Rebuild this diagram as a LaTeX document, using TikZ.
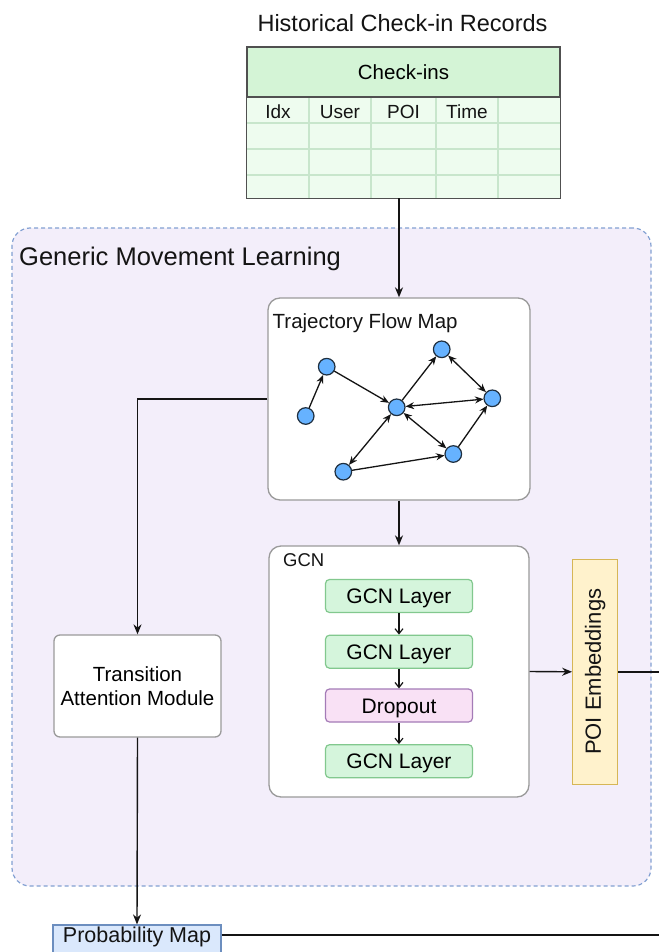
\documentclass[tikz,border=0pt]{standalone}
\usepackage{fontspec}
\setmainfont{Liberation Sans}
\usetikzlibrary{arrows.meta,calc}

\definecolor{regionfill}{HTML}{F3EEFA}
\definecolor{regionline}{HTML}{82A0D2}
\definecolor{panelline}{HTML}{9A9A9A}
\definecolor{hdrfill}{HTML}{D4F4D6}
\definecolor{bodyfill}{HTML}{EEFCEF}
\definecolor{gridline}{HTML}{C8E6CC}
\definecolor{tableline}{HTML}{505050}
\definecolor{layerfill}{HTML}{D5F5DC}
\definecolor{layerline}{HTML}{82C88E}
\definecolor{dropfill}{HTML}{F9E1F5}
\definecolor{dropline}{HTML}{A47BB7}
\definecolor{poifill}{HTML}{FFF2CC}
\definecolor{poiline}{HTML}{D6B656}
\definecolor{pmfill}{HTML}{DAE8FC}
\definecolor{pmline}{HTML}{6C8EBF}
\definecolor{vertexfill}{HTML}{66B2FF}
\definecolor{vertexline}{HTML}{1F2F3F}
\definecolor{ink}{HTML}{141414}

\newcommand\fsz[2]{\fontsize{#1}{#2}\selectfont}

\begin{document}
\begin{tikzpicture}[x=1pt,y=-1pt,
  region/.style={draw=regionline, dash pattern=on 4pt off 3pt, fill=regionfill,
    rounded corners=18pt, line width=1.2pt, inner sep=0pt},
  panel/.style={draw=panelline, fill=white, rounded corners=12pt, line width=1.3pt, inner sep=0pt},
  layerbox/.style={draw=layerline, fill=layerfill, rounded corners=4pt, minimum width=147pt,
    minimum height=33pt, inner sep=0pt, font=\fsz{21}{25}, line width=1.2pt,
    text height=15pt, text depth=0pt},
  dropbox/.style={layerbox, draw=dropline, fill=dropfill},
  poibox/.style={draw=poiline, fill=poifill, line width=1.2pt, minimum width=45pt,
    minimum height=225pt, inner sep=0pt},
  pmbox/.style={draw=pmline, fill=pmfill, line width=1.2pt, minimum width=168pt,
    minimum height=44pt, inner sep=0pt},
  tambox/.style={draw=panelline, fill=white, rounded corners=6pt, line width=1.3pt,
    minimum width=167pt, minimum height=102pt, inner sep=0pt, align=center,
    font=\fsz{20.5}{24}},
  vertex/.style={circle, draw=vertexline, fill=vertexfill, minimum size=16.6pt,
    inner sep=0pt, line width=1.2pt},
  flow/.style={-{Stealth[length=10pt,width=8pt]}, line width=1.4pt, draw=ink},
  edge/.style={-{Stealth[length=8.5pt,width=7pt]}, line width=1.3pt, draw=ink},
  biedge/.style={{Stealth[length=8.5pt,width=7pt]}-{Stealth[length=8.5pt,width=7pt]},
    line width=1.3pt, draw=ink},
  link/.style={-{Straight Barb[length=5pt,width=8pt]}, line width=1.2pt, draw=ink},
  plain/.style={line width=1.4pt, draw=ink},
  txt/.style={inner sep=0pt, text=ink}
]
\useasboundingbox (0,0) rectangle (659,952);
\clip (0,0) rectangle (659,952);

% ---- region: generic movement learning ----
\node[region, minimum width=639pt, minimum height=658pt] (gml) at (331.5,557) {};
\node[txt, anchor=base west, font=\fsz{25.5}{30}] (gmllabel) at (19,265) {Generic Movement Learning};

% ---- check-in table ----
\node[txt, anchor=base, font=\fsz{23.5}{28}] (title) at (402.5,31.5) {Historical Check-in Records};
\node[fill=bodyfill, minimum width=313pt, minimum height=151pt, inner sep=0pt] (checkins) at (403.5,122.5) {};
\foreach \cx in {309,371,436,498}
  \draw[gridline, line width=1.2pt] (\cx,97) -- (\cx,198);
\foreach \cy in {123,149,175}
  \draw[gridline, line width=1.2pt] (247,\cy) -- (560,\cy);
\node[draw=tableline, fill=hdrfill, line width=1.3pt, minimum width=313pt, minimum height=50pt,
  inner sep=0pt, font=\fsz{20.5}{24}] (hdr) at (403.5,72) {Check-ins};
\draw[tableline, line width=1.3pt] (checkins.north west) rectangle (checkins.south east);
\node[txt, anchor=base, font=\fsz{19}{23}] (cidx) at (278,119) {Idx};
\node[txt, anchor=base, font=\fsz{19}{23}] (cuser) at (340,119) {User};
\node[txt, anchor=base, font=\fsz{19}{23}] (cpoi) at (403.5,119) {POI};
\node[txt, anchor=base, font=\fsz{19}{23}] (ctime) at (467,119) {Time};

% ---- trajectory flow map ----
\node[panel, minimum width=262pt, minimum height=202pt] (tfm) at (399,399) {};
\node[txt, anchor=base west, font=\fsz{20.5}{24}] (tfmlabel) at (272.5,328.3) {Trajectory Flow Map};
\node[vertex] (va) at (305.7,416) {};
\node[vertex] (vb) at (326.7,366.7) {};
\node[vertex] (vc) at (396.7,407.3) {};
\node[vertex] (vd) at (441.7,349.3) {};
\node[vertex] (ve) at (492.3,398.3) {};
\node[vertex] (vf) at (453.3,454) {};
\node[vertex] (vg) at (343.3,471.7) {};
\draw[edge] (va) -- (vb);
\draw[edge] (vb) -- (vc);
\draw[edge] (vc) -- (vd);
\draw[biedge] (vd) -- (ve);
\draw[biedge] (vc) -- (ve);
\draw[biedge] (vc) -- (vf);
\draw[biedge] (vc) -- (vg);
\draw[edge] (vg) -- (vf);
\draw[edge] (vf) -- (ve);

% ---- GCN ----
\node[panel, minimum width=260pt, minimum height=251pt] (gcn) at (399,671.5) {};
\node[txt, anchor=base west, font=\fsz{18.5}{22}] (gcnlabel) at (283,566.7) {GCN};
\node[layerbox] (l1) at (399,596) {GCN Layer};
\node[layerbox] (l2) at (399,651.7) {GCN Layer};
\node[dropbox] (dp) at (399,705.5) {Dropout};
\node[layerbox] (l3) at (399,761.2) {GCN Layer};
\draw[link] (l1) -- (l2);
\draw[link] (l2) -- (dp);
\draw[link] (dp) -- (l3);

% ---- POI embeddings ----
\node[poibox] (poi) at (595.2,671.8) {};
\node[txt, rotate=90, font=\fsz{22}{26}] (poilabel) at (poi.center) {POI Embeddings};

% ---- transition attention module ----
\node[tambox] (tam) at (137.5,686) {Transition\\Attention Module};

% ---- probability map ----
\node[pmbox] (pm) at (137,947) {};
\node[txt, font=\fsz{21.5}{26}] (pmlabel) at (137,937) {Probability Map};

% ---- connectors ----
\coordinate (poiout) at (659,671.8);
\coordinate (pmout) at (659,935);
\draw[flow] (checkins.south -| tfm.north) -- (tfm.north);
\draw[flow] (tfm.south) -- (gcn.north);
\draw[flow] (tfm.west) -| (tam.north);
\draw[flow] (gcn.east) -- (poi.west);
\draw[plain] (poi.east) -- (poiout);
\draw[flow] (tam.south) -- (pm.north);
\draw[plain] (pm.east |- pmout) -- (pmout);
\end{tikzpicture}
\end{document}
